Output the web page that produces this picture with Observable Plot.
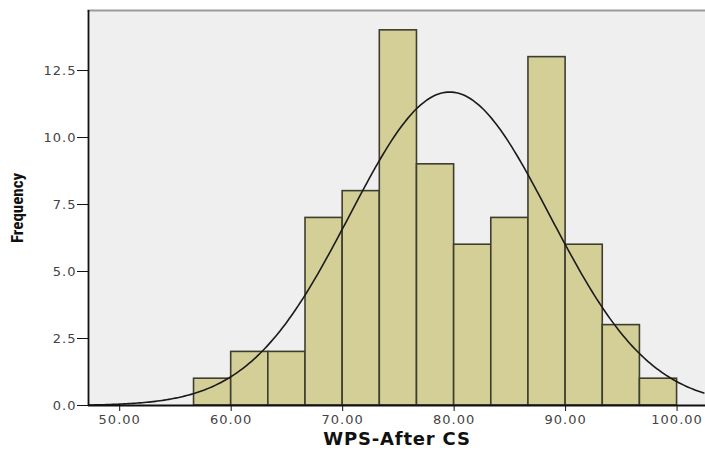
<!DOCTYPE html>
<html><head><meta charset="utf-8">
<script src="https://cdn.jsdelivr.net/npm/d3@7"></script>
<script src="https://cdn.jsdelivr.net/npm/@observablehq/plot@0.6"></script>
<style>body{margin:0;background:#fff}#chart svg{display:block}</style>
</head><body><div id="chart"></div>
<script>
// Histogram bins (lower edges) and counts
const binEdges = [56.667, 60, 63.333, 66.667, 70, 73.333, 76.667, 80, 83.333, 86.667, 90, 93.333, 96.667, 100];
const counts = [1, 2, 2, 7, 8, 14, 9, 6, 7, 13, 6, 3, 1];
const xTicks = [50, 60, 70, 80, 90, 100];
const yTicks = [0, 2.5, 5, 7.5, 10, 12.5];
// Fitted normal curve parameters (estimated)
const curveMean = 79.6;
const curveSD = 8.98;

const bins = counts.map((c, i) => ({x1: binEdges[i], x2: binEdges[i + 1], y: c}));
const N = d3.sum(counts);
const w = binEdges[1] - binEdges[0];
const xDomain = [47.2, 102.55];
const curve = d3.range(xDomain[0], xDomain[1] + 0.01, 0.2).map(x => ({
  x, y: N * w * Math.exp(-0.5 * ((x - curveMean) / curveSD) ** 2) / (curveSD * Math.sqrt(2 * Math.PI))
}));

const chart = Plot.plot({
  width: 705, height: 453,
  marginLeft: 88, marginRight: 0, marginTop: 10, marginBottom: 48,
  style: {fontFamily: "DejaVu Sans, sans-serif", fontSize: "13px", background: "#fff", color: "#333"},
  x: {domain: xDomain},
  y: {domain: [0, 14.74]},
  marks: [
    Plot.frame({fill: "#efefef", stroke: null}),
    Plot.frame({anchor: "top", stroke: "#9a9a9a", strokeWidth: 2}),
    Plot.rectY(bins, {x1: "x1", x2: "x2", y: "y", fill: "#d3cf96", stroke: "#3e3e30", strokeWidth: 1.6, inset: 0}),
    Plot.line(curve, {x: "x", y: "y", stroke: "#1a1a1a", strokeWidth: 1.6}),
    Plot.ruleX([xDomain[0]], {stroke: "#111", strokeWidth: 1.8}),
    Plot.ruleY([0], {stroke: "#111", strokeWidth: 1.8}),
    Plot.axisY(yTicks, {tickSize: 11, tickPadding: 1, tickFormat: d => d.toFixed(1), label: null, stroke: "#111", fill: "#444", fontSize: 13}),
    Plot.axisX(xTicks, {tickSize: 6, tickPadding: 3, tickFormat: d => d.toFixed(2), label: null, stroke: "#111", fill: "#444", fontSize: 13}),
    Plot.text(["Frequency"], {frameAnchor: "left", textAnchor: "middle", rotate: -90, dx: -71, fontSize: 17, fontWeight: "bold", fill: "#111", fontFamily: "Liberation Sans Narrow, Roboto Condensed, Liberation Sans, sans-serif"}),
    Plot.text(["WPS-After CS"], {frameAnchor: "bottom", dy: 39, fontSize: 18, fontWeight: "bold", fill: "#111"})
  ]
});
// widen tick labels and the x title a little, like the reference's stretched type
d3.select(chart).selectAll("g[aria-label='y-axis tick label'] text, g[aria-label='x-axis tick label'] text").attr("letter-spacing", "1px");
d3.select(chart).selectAll("text").filter(function() { return this.textContent === "WPS-After CS"; }).attr("letter-spacing", "0.8px");
document.getElementById("chart").append(chart);
</script></body></html>
